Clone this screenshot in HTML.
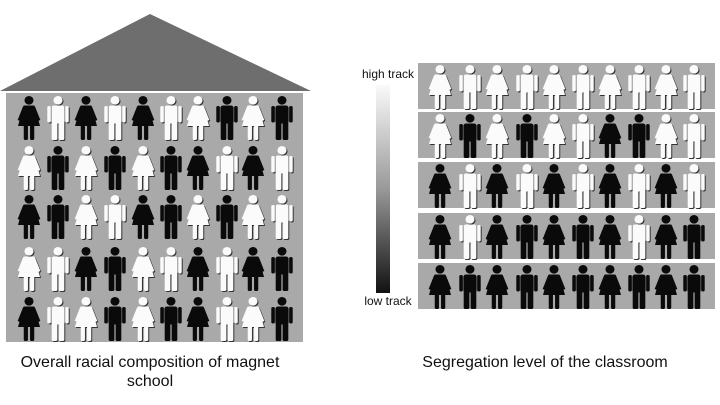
<!DOCTYPE html>
<html><head><meta charset="utf-8"><style>
html,body{margin:0;padding:0;background:#fff;width:720px;height:405px;overflow:hidden}
svg{display:block}
text{font-family:"Liberation Sans",sans-serif;fill:#111}
</style></head><body>
<svg id="s" width="720" height="405" viewBox="0 0 720 405" xmlns="http://www.w3.org/2000/svg">
<defs>
<linearGradient id="g" x1="0" y1="0" x2="0" y2="1">
<stop offset="0" stop-color="#fafafa"/><stop offset="0.5" stop-color="#999"/><stop offset="1" stop-color="#111"/>
</linearGradient>
<g id="man">
<circle cx="0" cy="4.3" r="4.3"/>
<rect x="-6.3" y="9.5" width="12.6" height="18" rx="2.5"/>
<rect x="-10.2" y="10" width="3.4" height="16.5" rx="1.6"/>
<rect x="6.8" y="10" width="3.4" height="16.5" rx="1.6"/>
<rect x="-6" y="25" width="5.4" height="19" rx="1.2"/>
<rect x="0.6" y="25" width="5.4" height="19" rx="1.2"/>
</g>
<g id="woman">
<circle cx="0" cy="4.3" r="4.3"/>
<path d="M-5 9.5 L5 9.5 L10.5 30 L-10.5 30 Z"/>
<path d="M-5.5 10 L-10.8 24 L-8.6 25 L-4 13 Z"/>
<path d="M5.5 10 L10.8 24 L8.6 25 L4 13 Z"/>
<rect x="-5" y="28" width="4" height="16" rx="1.2"/>
<rect x="1" y="28" width="4" height="16" rx="1.2"/>
</g>
</defs>
<polygon points="0,91 150,14 311,91" fill="#6e6e6e"/>
<rect x="6" y="93" width="297" height="249" fill="#a9a9a9"/>
<rect x="376" y="85" width="14" height="208" fill="url(#g)"/>
<text x="388" y="78" font-size="12" text-anchor="middle">high track</text>
<text x="388" y="305" font-size="12" text-anchor="middle">low track</text>
<text x="150" y="367" font-size="16" text-anchor="middle">Overall racial composition of magnet</text>
<text x="150" y="386" font-size="16" text-anchor="middle">school</text>
<text x="545" y="367" font-size="16" text-anchor="middle">Segregation level of the classroom</text>
<g id="figs"></g>
</svg>
<script>
var NS="http://www.w3.org/2000/svg",s=document.getElementById('s'),F=document.getElementById('figs');
function fig(x,y,code){
 var t=code[1]=='F'?'#woman':'#man',w=code[0]=='W';
 if(w){var sh=document.createElementNS(NS,'use');sh.setAttribute('href',t);sh.setAttribute('transform','translate('+(x+1)+','+(y+1)+') scale(1.05,1)');sh.setAttribute('fill','#333');F.appendChild(sh);}
 var u=document.createElementNS(NS,'use');u.setAttribute('href',t);u.setAttribute('transform','translate('+x+','+y+') scale(1.05,1)');u.setAttribute('fill',w?'#fbfbfb':'#0a0a0a');F.appendChild(u);
}
var L=["BF WM BF WM BF WM WF BM WF BM","WF BM WF BM WF BM BF WM BF WM","BF BM WF WM BF BM WF BM WF WM","WF WM BF BM WF WM BF WM BF BM","BF WM WF BM WF BM BF WM WF BM"];
var lx=[29,58,86,115,143,171,198,227,253,282],ly=[96,146,195,247,297];
L.forEach(function(r,i){r.split(' ').forEach(function(c,j){fig(lx[j],ly[i],c);});});
var R=["WF WM WF WM WF WM WF WM WF WM","WF BM WF BM WF WM BF BM WF WM","BF WM BF WM BF WM BF WM BF WM","BF WM BF BM BF BM BF WM BF BM","BF BM BF BM BF BM BF BM BF BM"];
var by=[63,112,162,213,263];
by.forEach(function(y){var r=document.createElementNS(NS,'rect');r.setAttribute('x',418);r.setAttribute('y',y);r.setAttribute('width',297);r.setAttribute('height',46);r.setAttribute('fill','#a9a9a9');F.appendChild(r);});
var rx=[440,470,497,527,554,583,610,639,666,694];
R.forEach(function(r,i){r.split(' ').forEach(function(c,j){fig(rx[j],by[i]+2,c);});});
</script>
</body></html>
